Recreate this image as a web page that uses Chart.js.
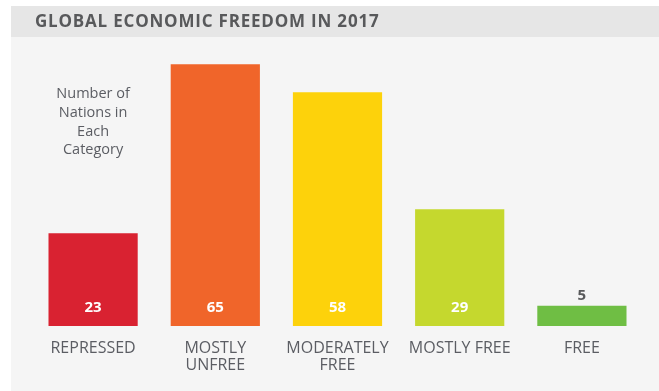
<!DOCTYPE html>
<html>
<head>
<meta charset="utf-8">
<script src="https://cdn.jsdelivr.net/npm/chart.js@4"></script>
<style>
  html, body { margin: 0; padding: 0; background: #ffffff; }
  canvas { display: block; }
</style>
</head>
<body>
<canvas id="freedomChart" width="659" height="391"></canvas>
<script>
// Data
const categories = [['REPRESSED'], ['MOSTLY', 'UNFREE'], ['MODERATELY', 'FREE'], ['MOSTLY FREE'], ['FREE']];
const nationCounts = [23, 65, 58, 29, 5];
const barColors = ['#d92231', '#f0652a', '#fdd20b', '#c5d82e', '#6fbe44'];
const titleText = 'GLOBAL ECONOMIC FREEDOM IN 2017';
const noteLines = ['Number of', 'Nations in', 'Each', 'Category'];

const textGray = '#5b5d63';

// Panel background and grey title band
const panelPlugin = {
  id: 'panel',
  beforeDraw(chart) {
    const ctx = chart.ctx;
    ctx.save();
    ctx.fillStyle = '#ffffff';
    ctx.fillRect(0, 0, chart.width, chart.height);
    ctx.fillStyle = '#f5f5f5';
    ctx.fillRect(11, 37, chart.width - 11, chart.height - 37);
    ctx.fillStyle = '#e6e6e6';
    ctx.fillRect(11, 6, chart.width - 11, 31);
    ctx.restore();
  },
  afterDraw(chart) {
    const ctx = chart.ctx;
    ctx.save();
    // title
    ctx.fillStyle = '#58595b';
    ctx.font = 'bold 17px "Open Sans"';
    ctx.letterSpacing = '0.8px';
    ctx.textAlign = 'left';
    ctx.textBaseline = 'middle';
    ctx.fillText(titleText, 35, 22);
    ctx.letterSpacing = '0px';
    // note above the first bar
    const x0 = chart.scales.x.getPixelForValue(0);
    ctx.fillStyle = textGray;
    ctx.font = '14.5px "Open Sans"';
    ctx.textAlign = 'center';
    noteLines.forEach((line, i) => {
      ctx.fillText(line, x0, 94 + i * 18.7);
    });
    ctx.restore();
  }
};

// Value labels: inside the bar, or above it when the bar is short
const valueLabels = {
  id: 'valueLabels',
  afterDatasetsDraw(chart) {
    const ctx = chart.ctx;
    const meta = chart.getDatasetMeta(0);
    ctx.save();
    ctx.font = 'bold 15px "Open Sans"';
    ctx.textAlign = 'center';
    ctx.textBaseline = 'middle';
    meta.data.forEach((bar, i) => {
      const h = bar.base - bar.y;
      if (h > 40) {
        ctx.fillStyle = '#ffffff';
        ctx.fillText(nationCounts[i], bar.x, bar.base - 18);
      } else {
        ctx.fillStyle = '#58595b';
        ctx.fillText(nationCounts[i], bar.x, bar.y - 10);
      }
    });
    ctx.restore();
  }
};

const ctx = document.getElementById('freedomChart').getContext('2d');
new Chart(ctx, {
  type: 'bar',
  data: {
    labels: categories,
    datasets: [{
      data: nationCounts,
      backgroundColor: barColors,
      borderWidth: 0,
      barPercentage: 0.73,
      categoryPercentage: 1
    }]
  },
  options: {
    responsive: false,
    animation: false,
    layout: { padding: { left: 32, right: 16, top: 44, bottom: 0 } },
    plugins: {
      legend: { display: false },
      tooltip: { enabled: false },
      title: { display: false }
    },
    scales: {
      x: {
        grid: { display: false, drawTicks: false },
        border: { display: false },
        ticks: {
          color: textGray,
          padding: 14,
          font: { family: '"Open Sans"', size: 16, lineHeight: 1.06 },
          maxRotation: 0,
          autoSkip: false
        },
        afterFit(scale) { scale.height = 65; }
      },
      y: {
        display: false,
        min: 0,
        max: 70
      }
    }
  },
  plugins: [panelPlugin, valueLabels]
});
</script>
</body>
</html>
